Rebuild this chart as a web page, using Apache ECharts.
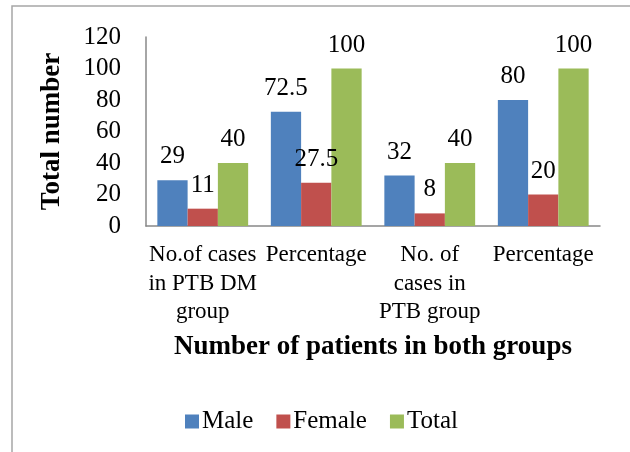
<!DOCTYPE html>
<html>
<head>
<meta charset="utf-8">
<script src="https://cdn.jsdelivr.net/npm/echarts@6/dist/echarts.min.js"></script>
<style>
  html, body { margin: 0; padding: 0; background: #fff; }
  #chart { width: 630px; height: 452px; }
</style>
</head>
<body>
<div id="chart"></div>
<script>
var categories = ['No.of cases\nin PTB DM\ngroup', 'Percentage', 'No. of\ncases in\nPTB group', 'Percentage'];
var male = [29, 72.5, 32, 80];
var female = [11, 27.5, 8, 20];
var total = [40, 100, 40, 100];
var yTicks = [0, 20, 40, 60, 80, 100, 120];

var font = 'Liberation Serif';

var chart = echarts.init(document.getElementById('chart'));

function barSeries(name, data, color) {
  return {
    name: name,
    type: 'bar',
    data: data,
    barGap: '0%',
    barCategoryGap: '20%',
    itemStyle: { color: color },
    label: {
      show: true,
      position: 'top',
      distance: 11,
      fontFamily: font,
      fontSize: 25,
      color: '#000'
    }
  };
}

var option = {
  animation: false,
  textStyle: { fontFamily: font },
  graphic: [{
    type: 'rect',
    shape: { x: 12, y: 6, width: 640, height: 460 },
    style: { fill: 'none', stroke: '#a6a6a6', lineWidth: 1.5 },
    silent: true
  }],
  grid: { left: 146, right: 30, top: 37, bottom: 226 },
  legend: {
    data: ['Male', 'Female', 'Total'],
    left: 180,
    top: 404,
    icon: 'rect',
    itemWidth: 14,
    itemHeight: 14,
    itemGap: 23,
    textStyle: { fontFamily: font, fontSize: 25, color: '#000', padding: [0, 0, 0, -2] }
  },
  xAxis: {
    type: 'category',
    data: categories,
    name: 'Number of patients in both groups',
    nameLocation: 'middle',
    nameGap: 108,
    nameTextStyle: { fontFamily: font, fontSize: 27, fontWeight: 'bold', color: '#000' },
    axisLine: { lineStyle: { color: '#888', width: 1.5 } },
    axisTick: { show: false },
    axisLabel: {
      interval: 0,
      margin: 15,
      fontFamily: font,
      fontSize: 23,
      lineHeight: 28.5,
      color: '#000'
    }
  },
  yAxis: {
    type: 'value',
    min: 0,
    max: 120,
    interval: 20,
    name: 'Total number',
    nameLocation: 'middle',
    nameGap: 80,
    nameRotate: 90,
    nameTextStyle: { fontFamily: font, fontSize: 27, fontWeight: 'bold', color: '#000' },
    axisLine: { show: true, lineStyle: { color: '#888', width: 1.5 } },
    axisTick: { show: false },
    splitLine: { show: false },
    axisLabel: {
      margin: 25,
      fontFamily: font,
      fontSize: 25,
      color: '#000',
      formatter: function (v) { return yTicks.indexOf(v) >= 0 ? String(v) : ''; }
    }
  },
  series: [
    barSeries('Male', male, '#4F81BD'),
    barSeries('Female', female, '#C0504D'),
    barSeries('Total', total, '#9BBB59')
  ]
};

chart.setOption(option);
</script>
</body>
</html>
